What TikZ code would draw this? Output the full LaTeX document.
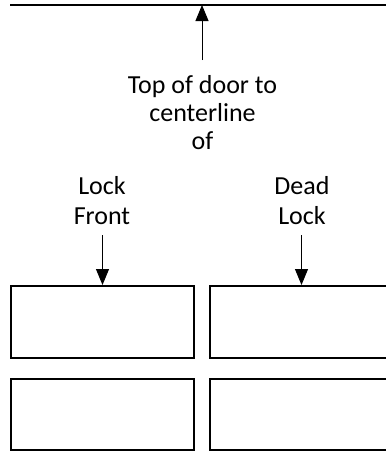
\documentclass[tikz,border=0pt]{standalone}
\usepackage{fontspec}
\setmainfont{Carlito}
\usepackage{tikz}
\usetikzlibrary{arrows.meta,positioning,calc}

\tikzset{
    label text/.style={align=center, inner sep=0pt, anchor=base, font=\fontsize{26}{28}\selectfont},
    door box/.style={draw, line width=2pt, minimum width=183pt, minimum height=72pt, inner sep=0pt},
    dim arrow/.style={line width=1pt, -{Triangle[length=16pt,width=13pt]}}
}

\begin{document}
\begin{tikzpicture}[x=1pt, y=-1pt]
    \clip (0,0) rectangle (386,451);
    \useasboundingbox (0,0) rectangle (386,451);

    % Top edge of door
    \draw[line width=2pt] (10,5) -- (400,5);
    \coordinate (doortop) at (202,5);
    \coordinate (upstart) at (202,60);

    % Labels (anchored at the last baseline)
    \node[label text] (toplabel) at (202.5,149) {Top of door to\\centerline\\of};
    \node[label text, font=\fontsize{26}{30}\selectfont] (lockfront) at (102,224) {Lock\\Front};
    \node[label text, font=\fontsize{26}{30}\selectfont] (deadlock) at (302,224) {Dead\\Lock};

    % Boxes
    \node[door box] (lfbox) at (102.5,322) {};
    \node[door box] (dlbox) at (301.5,322) {};
    \node[door box, minimum height=71pt] (lfbox2) at (102.5,414.5) {};
    \node[door box, minimum height=71pt] (dlbox2) at (301.5,414.5) {};

    % Arrows
    \coordinate (lfstart) at (102.5,235);
    \coordinate (dlstart) at (301.5,235);
    \draw[dim arrow] (upstart) -- (doortop);
    \draw[dim arrow] (lfstart) -- (lfbox.north);
    \draw[dim arrow] (dlstart) -- (dlbox.north);
\end{tikzpicture}
\end{document}
